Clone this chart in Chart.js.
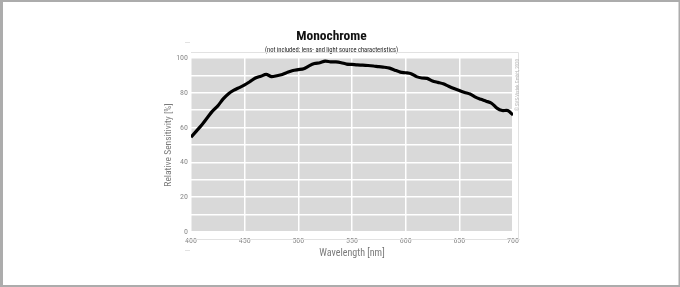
<!DOCTYPE html>
<html>
<head>
<meta charset="utf-8">
<script src="https://cdn.jsdelivr.net/npm/chart.js@4.4.0/dist/chart.umd.min.js"></script>
<style>
  html, body { margin: 0; padding: 0; background: #fff; }
  #wrap { width: 680px; height: 287px; }
</style>
</head>
<body>
<div id="wrap"><canvas id="sensitivity" width="680" height="287"></canvas></div>
<script>
const FONT = "'Roboto Condensed', 'DejaVu Sans Condensed', sans-serif";

// wavelength in nm, every 5 nm
const wavelengths = [
    400, 405, 410, 415, 420, 425, 430, 435, 440, 445,
    450, 455, 460, 465, 470, 475, 480, 485, 490, 495,
    500, 505, 510, 515, 520, 525, 530, 535, 540, 545,
    550, 555, 560, 565, 570, 575, 580, 585, 590, 595,
    600, 605, 610, 615, 620, 625, 630, 635, 640, 645,
    650, 655, 660, 665, 670, 675, 680, 685, 690, 695,
    700
];
// relative sensitivity in %
const sensitivity = [
    54.5, 58.0, 61.5, 65.5, 69.5, 72.5, 76.5, 79.5, 81.5, 83.0,
    84.5, 86.5, 88.5, 89.5, 90.6, 89.3, 89.8, 90.5, 91.8, 92.8,
    93.3, 93.8, 95.5, 96.8, 97.3, 98.2, 97.8, 97.8, 97.3, 96.5,
    96.3, 96.0, 95.9, 95.7, 95.4, 95.0, 94.7, 94.2, 93.0, 91.9,
    91.5, 91.0, 89.3, 88.5, 88.3, 86.8, 86.0, 85.2, 83.8, 82.5,
    81.3, 80.2, 79.3, 77.5, 76.3, 75.2, 74.0, 71.2, 69.8, 69.8,
    67.3
];
const xTicks = [400, 450, 500, 550, 600, 650, 700];
const yTicks = [0, 20, 40, 60, 80, 100];

const titleText = "Monochrome";
const subtitleText = "(not included: lens- and light source characteristics)";
const copyrightText = "\u00a9 SVS-Vistek GmbH, 2020";

// gray plot background, light frame, copyright and page border
const backdropPlugin = {
    id: "backdrop",
    beforeDraw(chart) {
        const ctx = chart.ctx;
        const a = chart.chartArea;
        ctx.save();
        ctx.fillStyle = "#d9d9d9";
        ctx.fillRect(a.left, a.top, a.right - a.left, a.bottom - a.top);
        ctx.restore();
    },
    afterDraw(chart) {
        const ctx = chart.ctx;
        const a = chart.chartArea;
        ctx.save();
        // light outer frame
        ctx.strokeStyle = "#e2e2e2";
        ctx.lineWidth = 1;
        ctx.beginPath();
        ctx.moveTo(a.left, a.top - 5.5);
        ctx.lineTo(a.right + 5.5, a.top - 5.5);
        ctx.lineTo(a.right + 5.5, a.bottom + 7);
        ctx.moveTo(a.left - 4, a.bottom + 7.5);
        ctx.lineTo(a.right + 7, a.bottom + 7.5);
        ctx.moveTo(a.left - 6, a.top - 15.5);
        ctx.lineTo(a.left - 1, a.top - 15.5);
        ctx.moveTo(a.left - 6, a.bottom + 18.5);
        ctx.lineTo(a.left - 1, a.bottom + 18.5);
        ctx.stroke();

        // copyright, rotated
        ctx.translate(a.right + 4.5, a.top + 1);
        ctx.rotate(-Math.PI / 2);
        ctx.fillStyle = "#b5b5b5";
        ctx.font = "5px " + FONT;
        ctx.textAlign = "right";
        ctx.textBaseline = "middle";
        ctx.fillText(copyrightText, 0, 0);
        ctx.restore();

        // page border
        ctx.save();
        ctx.fillStyle = "#acacac";
        const w = chart.width, h = chart.height;
        ctx.fillRect(0, 0, w, 2);
        ctx.fillRect(0, 0, 3, h);
        ctx.fillRect(w - 1.5, 0, 1.5, h);
        ctx.fillRect(0, h - 2, w, 2);
        ctx.restore();
    }
};

const config = {
    type: "line",
    data: {
        datasets: [{
            data: wavelengths.map((w, i) => ({ x: w, y: sensitivity[i] })),
            borderColor: "#000",
            borderWidth: 3.2,
            pointRadius: 0,
            tension: 0.25,
            fill: false
        }]
    },
    options: {
        responsive: false,
        animation: false,
        layout: { padding: { left: 150, right: 167, top: 0, bottom: 0 } },
        plugins: {
            legend: { display: false },
            tooltip: { enabled: false },
            title: {
                display: true,
                text: titleText,
                color: "#111",
                font: { family: FONT, size: 13.5, weight: "bold" },
                padding: { top: 29, bottom: 1 }
            },
            subtitle: {
                display: true,
                text: subtitleText,
                color: "#222",
                font: { family: FONT, size: 6.5 },
                padding: { top: 0, bottom: 4 }
            }
        },
        scales: {
            x: {
                type: "linear",
                min: 400,
                max: 700,
                afterBuildTicks(axis) {
                    axis.ticks = xTicks.map(v => ({ value: v }));
                },
                afterFit(axis) { axis.height = 55; },
                grid: { color: "#ffffff", lineWidth: 1.5, drawTicks: false },
                border: { display: false },
                ticks: {
                    color: "#8a8a8a",
                    font: { family: FONT, size: 8 },
                    padding: 4,
                    maxRotation: 0
                },
                title: {
                    display: true,
                    text: "Wavelength [nm]",
                    color: "#7a7a7a",
                    font: { family: FONT, size: 10 },
                    padding: { top: 0, bottom: 28 }
                }
            },
            y: {
                min: 0,
                max: 100,
                ticks: {
                    stepSize: 10,
                    color: "#8a8a8a",
                    font: { family: FONT, size: 8 },
                    padding: 3,
                    callback: v => yTicks.includes(v) ? String(v) : ""
                },
                afterFit(axis) { axis.width = 41; },
                grid: { color: "#ffffff", lineWidth: 1.5, drawTicks: false },
                border: { display: false },
                title: {
                    display: true,
                    text: "Relative Sensitivity [%]",
                    color: "#7a7a7a",
                    font: { family: FONT, size: 9.5 },
                    padding: { top: 13, bottom: 0 }
                }
            }
        }
    },
    plugins: [backdropPlugin]
};

const chartJs = new Chart(document.getElementById("sensitivity").getContext("2d"), config);
</script>
</body>
</html>
